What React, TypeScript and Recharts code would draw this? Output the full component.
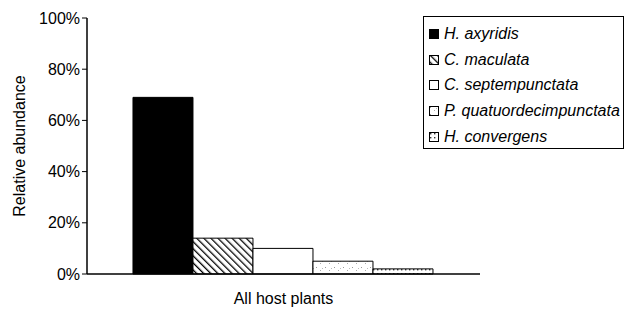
import React from 'react';
import { BarChart, Bar, XAxis, YAxis } from 'recharts';

const categories = ['All host plants'];
const species = ['H. axyridis', 'C. maculata', 'C. septempunctata', 'P. quatuordecimpunctata', 'H. convergens'];
const abundance = [0.69, 0.14, 0.10, 0.05, 0.02];
const yTicks = [0, 0.2, 0.4, 0.6, 0.8, 1];

const fills = ['#000', 'url(#stripes)', '#fff', 'url(#speckle)', 'url(#dots)'];

const data = categories.map((name) => {
  const row: Record<string, string | number> = { name };
  species.forEach((s, i) => {
    row['s' + i] = abundance[i];
  });
  return row;
});

const font = '"Liberation Sans", Arial, sans-serif';

const Legend = () => (
  <div
    style={{
      position: 'absolute',
      left: 423,
      top: 16,
      width: 201,
      height: 133,
      border: '1px solid #000',
      boxSizing: 'border-box',
      fontFamily: font,
      fontStyle: 'italic',
      fontSize: 16,
      paddingTop: 4,
      background: '#fff',
    }}
  >
    {species.map((s, i) => (
      <div key={s} style={{ display: 'flex', alignItems: 'center', height: 25.8 }}>
        <svg width={10} height={10} style={{ marginLeft: 5, marginRight: 5 }}>
          <rect x={0.5} y={0.5} width={9} height={9} fill={fills[i]} stroke="#000" strokeWidth={1} />
        </svg>
        <span>{s}</span>
      </div>
    ))}
  </div>
);

export default function App() {
  return (
    <div style={{ position: 'absolute', left: 0, top: 0, width: 626, height: 313, background: '#fff' }}>
      <BarChart
        width={626}
        height={313}
        data={data}
        margin={{ top: 18, right: 146, left: 27, bottom: 0 }}
        barCategoryGap="11.7%"
        barGap={0}
      >
        <defs>
          <pattern id="stripes" width="5" height="5" patternUnits="userSpaceOnUse" patternTransform="rotate(-45)">
            <rect width="5" height="5" fill="#fff" />
            <line x1="0" y1="0" x2="0" y2="5" stroke="#000" strokeWidth={2.6} />
          </pattern>
          <pattern id="speckle" width="9" height="7" patternUnits="userSpaceOnUse">
            <rect width="9" height="7" fill="#fff" />
            <rect x="1" y="1" width="1" height="1" fill="#999" />
            <rect x="5" y="4" width="1" height="1" fill="#aaa" />
            <rect x="7" y="2" width="1" height="1" fill="#bbb" />
          </pattern>
          <pattern id="dots" width="4" height="4" patternUnits="userSpaceOnUse">
            <rect width="4" height="4" fill="#fff" />
            <rect x="1" y="1" width="1.4" height="1.4" fill="#333" />
          </pattern>
        </defs>
        <XAxis
          dataKey="name"
          height={39}
          tick={false}
          tickLine={false}
          axisLine={{ stroke: '#000', strokeWidth: 1.5 }}
          label={{ value: categories[0], position: 'insideBottom', offset: 9, fill: '#000', fontSize: 16, fontFamily: font }}
        />
        <YAxis
          width={60}
          domain={[0, 1]}
          ticks={yTicks}
          interval={0}
          tickFormatter={(v: number) => `${Math.round(v * 100)}%`}
          tick={{ fill: '#000', fontSize: 16, fontFamily: font }}
          tickLine={{ stroke: '#000' }}
          tickSize={5}
          axisLine={{ stroke: '#000', strokeWidth: 1.5 }}
          label={{
            value: 'Relative abundance',
            angle: -90,
            position: 'insideLeft',
            offset: -8,
            style: { textAnchor: 'middle', fill: '#000', fontSize: 16, fontFamily: font },
          }}
        />
        {species.map((s, i) => (
          <Bar
            key={s}
            dataKey={'s' + i}
            name={s}
            fill={fills[i]}
            stroke="#000"
            strokeWidth={1}
            isAnimationActive={false}
          />
        ))}
      </BarChart>
      <Legend />
    </div>
  );
}
